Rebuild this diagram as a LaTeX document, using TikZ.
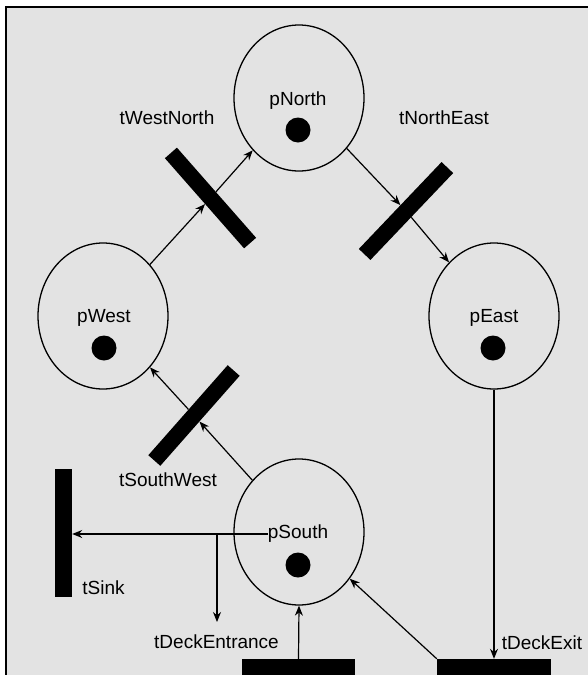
\documentclass[tikz,border=0pt]{standalone}
\usepackage{fontspec}
\setmainfont{Liberation Sans}
\usetikzlibrary{arrows.meta,shapes.geometric}
\definecolor{bgcol}{RGB}{227,227,227}
\begin{document}
\begin{tikzpicture}[x=1pt,y=-1pt,
 place/.style={draw,ellipse,line width=1.3pt,minimum width=130pt,minimum height=146pt,inner sep=0pt},
 tok/.style={circle,fill=black,minimum size=25pt,inner sep=0pt},
 lbl/.style={font=\fontsize{19}{22}\selectfont,inner sep=0pt},
 bar/.style={fill=black,rectangle,inner sep=0pt,minimum width=120pt,minimum height=16pt},
 arc/.style={line width=1.2pt,-{Stealth[length=10pt,width=8pt]}}]
\useasboundingbox (0,0) rectangle (588,675);
\clip (0,0) rectangle (588,675);
\fill[bgcol] (6,7) rectangle (600,690);
\draw[line width=2pt] (600,7) -- (6,7) -- (6,690);
% places
\node[place] (pNorth) at (299,98) {};
\node[place] (pWest) at (103,316) {};
\node[place] (pEast) at (494,316) {};
\node[place] (pSouth) at (299,532) {};
\node[lbl] (pNorthL) at (298,101) {pNorth};
\node[lbl] (pWestL) at (104,318) {pWest};
\node[lbl] (pEastL) at (494,318) {pEast};
\node[lbl] (pSouthL) at (298,534) {pSouth};
\node[tok] (kN) at (298,130) {};
\node[tok] (kW) at (104,348) {};
\node[tok] (kE) at (493,348) {};
\node[tok] (kS) at (298,565) {};
% transitions
\node[bar,rotate=-48.7] (tWN) at (210.5,198) {};
\node[bar,rotate=46.4] (tNE) at (406,211) {};
\node[bar,rotate=48.6] (tSW) at (194,415.5) {};
\node[fill=black,inner sep=0pt,minimum width=17pt,minimum height=128pt] (tSink) at (63.5,533) {};
\node[fill=black,inner sep=0pt,minimum width=113pt,minimum height=30pt] (entBar) at (298.5,674) {};
\node[fill=black,inner sep=0pt,minimum width=114pt,minimum height=30pt] (exitBar) at (494,674) {};
% labels
\node[lbl] (lWN) at (167,118) {tWestNorth};
\node[lbl] (lNE) at (444,118) {tNorthEast};
\node[lbl] (lSW) at (168,480) {tSouthWest};
\node[lbl] (lSink) at (103.5,588) {tSink};
\node[lbl] (lEnt) at (216.5,642) {tDeckEntrance};
\node[lbl] (lExit) at (542,643) {tDeckExit};
\coordinate (entEnd) at (217,622);
% arcs
\draw[arc] (pWest) -- (tWN);
\draw[arc] (tWN) -- (pNorth);
\draw[arc] (pNorth) -- (tNE);
\draw[arc] (tNE) -- (pEast);
\draw[arc] (pSouth) -- (tSW);
\draw[arc] (tSW) -- (pWest);
\draw[arc] (pSouthL.west) -- (tSink.east |- pSouthL.west);
\draw[arc] (pSouthL.west) -| (entEnd);
\draw[arc] (pEast.south) -- (exitBar.north);
\draw[arc] (exitBar.north west) -- (pSouth);
\draw[arc] (entBar.north) -- (pSouth.south);
\end{tikzpicture}
\end{document}
